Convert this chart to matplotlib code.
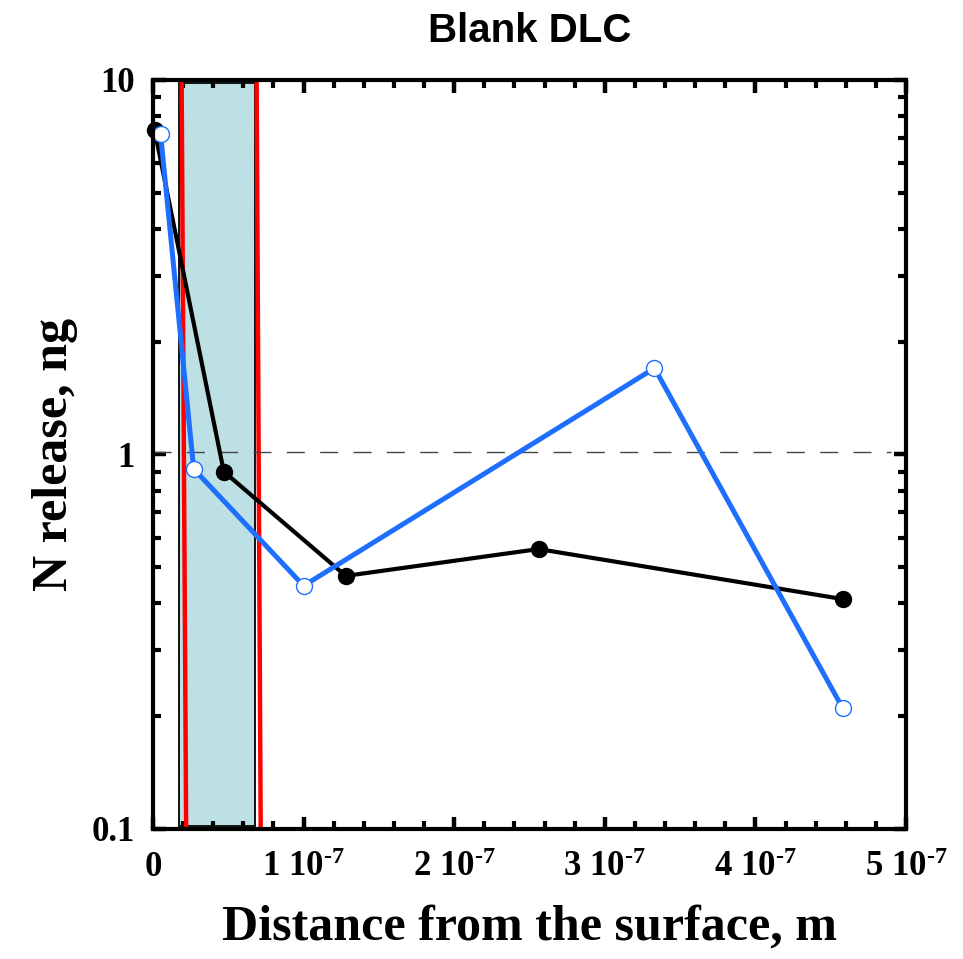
import matplotlib
matplotlib.use("Agg")
import matplotlib.pyplot as plt
from matplotlib.patches import Rectangle
from matplotlib.ticker import LogLocator, NullFormatter, MultipleLocator

plt.rcParams['mathtext.fontset'] = 'custom'
plt.rcParams['mathtext.rm'] = 'Liberation Serif:bold'
plt.rcParams['mathtext.it'] = 'Liberation Serif:bold'
plt.rcParams['mathtext.bf'] = 'Liberation Serif:bold'
plt.rcParams['mathtext.default'] = 'rm'

# Depth profile (m) and nitrogen release (ng)
depth_black = [0.01e-7, 0.47e-7, 1.28e-7, 2.56e-7, 4.58e-7]
release_black = [7.35, 0.90, 0.474, 0.559, 0.411]

depth_blue = [0.05e-7, 0.27e-7, 1.0e-7, 3.33e-7, 4.58e-7]
release_blue = [7.18, 0.915, 0.446, 1.70, 0.210]

# Shaded interface band and its bounding red markers
band_x = [0.17e-7, 0.68e-7]
band_y = [0.102, 9.8]
red_left = ([0.19e-7, 0.22e-7], [10, 0.1])
red_right = ([0.688e-7, 0.715e-7], [10, 0.1])
ref_level = 1.015

xticks = [0, 1e-7, 2e-7, 3e-7, 4e-7, 5e-7]
xtick_labels = ["0", r"1 10$^{\text{-7}}$", r"2 10$^{\text{-7}}$",
                r"3 10$^{\text{-7}}$", r"4 10$^{\text{-7}}$",
                r"5 10$^{\text{-7}}$"]
yticks = [0.1, 1, 10]
ytick_labels = ["0.1", "1", "10"]

fig = plt.figure(figsize=(9.63, 9.59), dpi=100)
ax = fig.add_axes([0.1589, 0.1356, 0.7819, 0.7810])

ax.set_yscale('log')
ax.set_xlim(0, 5e-7)
ax.set_ylim(0.1, 10)

ax.add_patch(Rectangle((band_x[0], band_y[0]), band_x[1] - band_x[0],
                       band_y[1] - band_y[0], facecolor='#bce0e3',
                       edgecolor='black', lw=1.3, zorder=1))
ax.plot(*red_left, color='#ff0000', lw=3.2, zorder=2, solid_capstyle='butt')
ax.plot(*red_right, color='#ff0000', lw=3.2, zorder=2, solid_capstyle='butt')

ax.plot([0, 4.9e-7], [ref_level, ref_level], color='#444444', lw=1.0,
        linestyle=(0, (13, 11)), zorder=2)

ax.plot(depth_black, release_black, color='black', lw=3, marker='o',
        markersize=11.5, markerfacecolor='black', markeredgecolor='black',
        zorder=4, clip_on=False)
ax.plot(depth_blue, release_blue, color='#1f6fff', lw=3.6, marker='o',
        markersize=11.5, markerfacecolor='white', markeredgecolor='#1f6fff',
        markeredgewidth=1.0, zorder=5, clip_on=False)

for s in ax.spines.values():
    s.set_linewidth(3)
    s.set_zorder(6)

tick_font = dict(fontfamily='Liberation Serif', fontweight='bold', fontsize=25)
ax.set_xticks(xticks)
ax.set_xticklabels(xtick_labels, **tick_font)
ax.xaxis.set_minor_locator(MultipleLocator(0.2e-7))
ax.set_yticks(yticks)
ax.set_yticklabels(ytick_labels, **tick_font)
ax.yaxis.set_minor_locator(LogLocator(base=10, subs=range(2, 10)))
ax.yaxis.set_minor_formatter(NullFormatter())

ax.tick_params(which='both', direction='in', top=True, right=True)
ax.tick_params(which='major', length=9, width=3.2)
ax.tick_params(axis='x', which='major', pad=16)
ax.tick_params(axis='y', which='major', pad=13)
ax.tick_params(which='minor', length=6, width=3)

ax.set_xlabel("Distance from the surface, m", fontfamily='Liberation Serif',
              fontweight='bold', fontsize=36, labelpad=15)
ax.set_ylabel("N release, ng", fontfamily='Liberation Serif',
              fontweight='bold', fontsize=36, labelpad=10)
fig.text(0.5503, 0.968, "Blank DLC", ha='center', va='center',
         fontfamily='Liberation Sans', fontweight='bold', fontsize=29)

fig.savefig("out.png", dpi=100)
